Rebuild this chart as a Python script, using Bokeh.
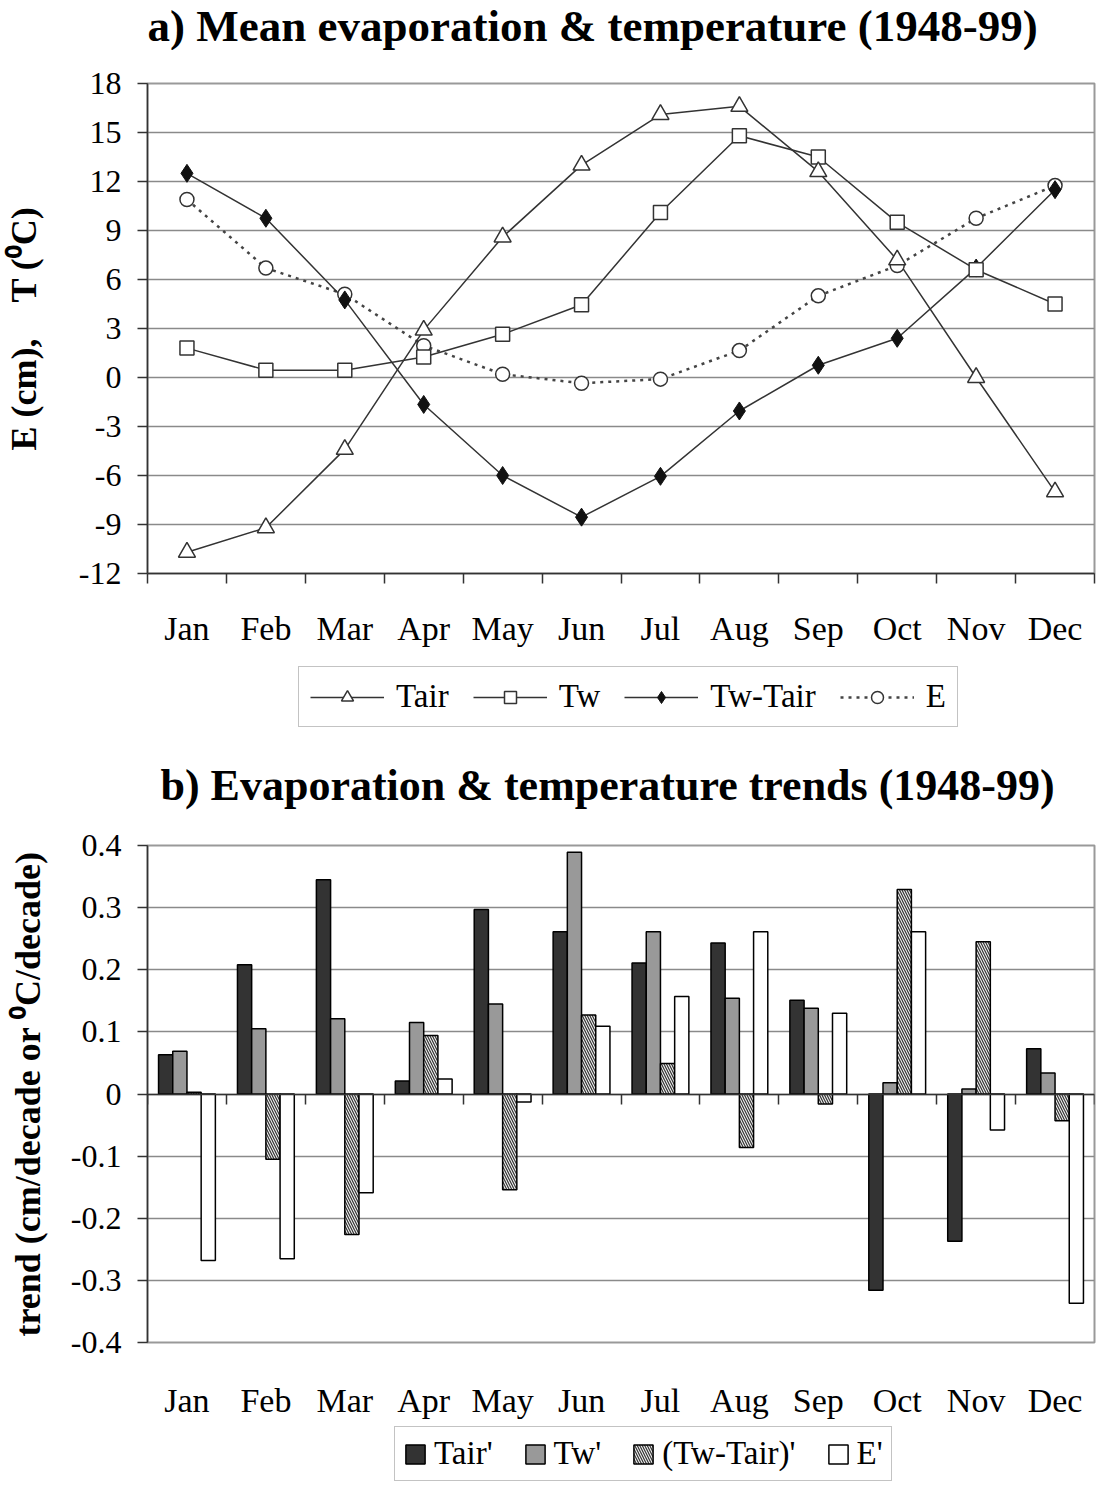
from bokeh.plotting import figure
from bokeh.models import (ColumnDataSource, Range1d, LinearAxis, FixedTicker, Legend,
                          LegendItem, PrintfTickFormatter, Grid, Label)
from bokeh.layouts import column
from bokeh.transform import dodge
from bokeh.embed import file_html
from bokeh.resources import INLINE

# ---------------- data ----------------
months = ["Jan", "Feb", "Mar", "Apr", "May", "Jun", "Jul", "Aug", "Sep", "Oct", "Nov", "Dec"]
month_idx = [1, 2, 3, 4, 5, 6, 7, 8, 9, 10, 11, 12]

# a) mean evaporation & temperature
tair = [-10.7, -9.2, -4.4, 2.9, 8.6, 13.0, 16.1, 16.6, 12.6, 7.2, 0.0, -7.0]
tw = [1.8, 0.45, 0.45, 1.25, 2.65, 4.45, 10.1, 14.8, 13.5, 9.5, 6.6, 4.5]
tw_tair = [12.5, 9.75, 4.75, -1.65, -6.0, -8.55, -6.05, -2.05, 0.75, 2.4, 6.7, 11.5]
evap = [10.9, 6.7, 5.1, 1.95, 0.2, -0.35, -0.1, 1.65, 5.0, 6.85, 9.75, 11.75]
y_ticks_a = [-12, -9, -6, -3, 0, 3, 6, 9, 12, 15, 18]

# b) trends
trend_tair = [0.063, 0.208, 0.345, 0.021, 0.297, 0.261, 0.211, 0.243, 0.151, -0.316, -0.237, 0.073]
trend_tw = [0.069, 0.105, 0.121, 0.115, 0.145, 0.389, 0.261, 0.154, 0.138, 0.018, 0.008, 0.034]
trend_diff = [0.003, -0.105, -0.226, 0.094, -0.154, 0.127, 0.049, -0.086, -0.016, 0.329, 0.245, -0.043]
trend_e = [-0.268, -0.265, -0.159, 0.024, -0.013, 0.109, 0.157, 0.261, 0.130, 0.261, -0.058, -0.337]
y_ticks_b = [-0.4, -0.3, -0.2, -0.1, 0, 0.1, 0.2, 0.3, 0.4]

FONT = "Liberation Serif"
LINE = "#333333"
W_FIG = 1098
month_bounds = [m - 0.5 for m in month_idx] + [month_idx[-1] + 0.5]
month_labels = {m: lab for m, lab in zip(month_idx, months)}


def add_y_axis(p, ticks, label, label_standoff):
    ax = LinearAxis(ticker=FixedTicker(ticks=ticks), formatter=PrintfTickFormatter(format="%g"))
    ax.axis_label = label
    ax.axis_label_text_font = FONT
    ax.axis_label_text_font_size = "36px"
    ax.axis_label_text_font_style = "bold"
    ax.axis_label_text_color = "black"
    ax.axis_label_standoff = label_standoff
    ax.major_label_text_font = FONT
    ax.major_label_text_font_size = "32px"
    ax.major_label_text_color = "black"
    ax.major_label_standoff = 16
    ax.major_tick_out = 10
    ax.major_tick_in = 0
    ax.major_tick_line_color = LINE
    ax.major_tick_line_width = 1.5
    ax.axis_line_color = LINE
    ax.axis_line_width = 1.5
    p.add_layout(ax, "left")
    p.add_layout(Grid(dimension=1, ticker=ax.ticker, grid_line_color="#8a8a8a", grid_line_width=1.5))


def style_label_axis(ax, standoff):
    ax.major_label_overrides = month_labels
    ax.major_label_text_font = FONT
    ax.major_label_text_font_size = "34px"
    ax.major_label_text_color = "black"
    ax.major_label_standoff = standoff


def strip_figure(height):
    # text / legend strip: only annotations are shown here
    f = figure(width=W_FIG, height=height, x_range=Range1d(100, 101), y_range=Range1d(100, 101),
               output_backend="svg", toolbar_location=None, x_axis_type=None, y_axis_type=None,
               min_border=0)
    f.outline_line_color = None
    return f


def add_title(f, text, x, y, size):
    f.add_layout(Label(x=x, y=y, x_units="screen", y_units="screen", text=text,
                       text_font=FONT, text_font_size=size, text_font_style="bold",
                       text_color="black", text_baseline="middle", text_align="left"))


def style_legend(leg):
    leg.label_text_font = FONT
    leg.label_text_font_size = "33px"
    leg.label_text_color = "black"
    leg.border_line_color = "#888888"
    leg.border_line_width = 1.5
    leg.background_fill_alpha = 1.0
    leg.margin = 0


# ---------------- title a ----------------
ta = strip_figure(50)
add_title(ta, "a) Mean evaporation & temperature (1948-99)", 0, 25, "45px")

# ---------------- figure a ----------------
pa = figure(width=W_FIG, height=600, x_range=Range1d(0.5, 12.5), y_range=Range1d(-12, 18),
            output_backend="svg", toolbar_location=None, x_axis_type=None, y_axis_type=None,
            min_border_left=146, min_border_right=4, min_border_top=33, min_border_bottom=77)
pa.outline_line_color = "#999999"
pa.outline_line_width = 2

add_y_axis(pa, y_ticks_a, "E (cm),\u00a0\u00a0\u00a0\u00a0T (\u2070C)", 32)

xa = LinearAxis(ticker=FixedTicker(ticks=month_idx, minor_ticks=month_bounds))
style_label_axis(xa, 26)
xa.major_tick_out = 0
xa.major_tick_in = 0
xa.minor_tick_out = 10
xa.minor_tick_in = 0
xa.minor_tick_line_color = LINE
xa.minor_tick_line_width = 1.5
xa.axis_line_color = LINE
xa.axis_line_width = 1.5
pa.add_layout(xa, "below")

src_a = ColumnDataSource(dict(x=month_idx, tair=tair, tw=tw, diff=tw_tair, e=evap))

E_LINE = dict(line_color="#444444", line_width=2.5, line_dash="3 5")
T_LINE = dict(line_color=LINE, line_width=1.5)
M_TAIR = dict(marker="triangle", size=17, fill_color="white", line_color=LINE, line_width=1.5)
M_TW = dict(marker="square", size=14, fill_color="white", line_color=LINE, line_width=1.5)
M_DIFF = dict(marker="diamond", size=18, fill_color="#111111", line_color="#111111", line_width=1)
M_E = dict(marker="circle", size=14, fill_color="white", line_color=LINE, line_width=1.5)
series_a = [("Tair", "tair", T_LINE, M_TAIR), ("Tw", "tw", T_LINE, M_TW),
            ("Tw-Tair", "diff", T_LINE, M_DIFF), ("E", "e", E_LINE, M_E)]

for _, col, ls, _ in series_a[::-1]:
    pa.line("x", col, source=src_a, **ls)
for _, col, _, ms in series_a[::-1]:
    pa.scatter("x", col, source=src_a, **ms)

# ---------------- legend a + title b ----------------
la = strip_figure(160)
items_a = []
for lab, col, ls, ms in series_a:
    r1 = la.line("x", col, source=src_a, visible=False, **ls)
    r2 = la.scatter("x", col, source=src_a, visible=False, **ms)
    items_a.append(LegendItem(label=lab, renderers=[r1, r2]))
leg_a = Legend(items=items_a, orientation="horizontal", location=(151, 83))
style_legend(leg_a)
leg_a.glyph_width = 74
leg_a.glyph_height = 30
leg_a.label_standoff = 12
leg_a.spacing = 24
leg_a.padding = 11
leg_a.inactive_fill_alpha = 0
la.add_layout(leg_a)
add_title(la, "b) Evaporation & temperature trends (1948-99)", 13, 25, "44px")

# ---------------- figure b ----------------
pb = figure(width=W_FIG, height=611, x_range=Range1d(0.5, 12.5), y_range=Range1d(-0.4, 0.4),
            output_backend="svg", toolbar_location=None, x_axis_type=None, y_axis_type=None,
            min_border_left=146, min_border_right=4, min_border_top=35, min_border_bottom=76)
pb.outline_line_color = "#999999"
pb.outline_line_width = 2

add_y_axis(pb, y_ticks_b, "trend (cm/decade or \u2070C/decade)", 20)

xb_lab = LinearAxis(ticker=FixedTicker(ticks=month_idx))
style_label_axis(xb_lab, 39)
xb_lab.axis_line_color = None
xb_lab.major_tick_out = 0
xb_lab.major_tick_in = 0
xb_lab.minor_tick_out = 0
xb_lab.minor_tick_in = 0
pb.add_layout(xb_lab, "below")

xb_zero = LinearAxis(fixed_location=0, ticker=FixedTicker(ticks=[], minor_ticks=month_bounds))
xb_zero.major_label_text_font_size = "0px"
xb_zero.minor_tick_out = 10
xb_zero.minor_tick_in = 0
xb_zero.minor_tick_line_color = LINE
xb_zero.minor_tick_line_width = 1.5
xb_zero.axis_line_color = LINE
xb_zero.axis_line_width = 1.5
pb.add_layout(xb_zero, "below")

src_b = ColumnDataSource(dict(x=month_idx, tair=trend_tair, tw=trend_tw, diff=trend_diff, e=trend_e))
W = 0.18
B_TAIR = dict(fill_color="#333333", line_color="black", line_width=1.5)
B_TW = dict(fill_color="#999999", line_color="black", line_width=1.5)
B_DIFF = dict(fill_color="#f0f0f0", line_color="black", line_width=1.5,
              hatch_pattern="left_diagonal_line", hatch_color="#333333",
              hatch_scale=5, hatch_weight=1.2)
B_E = dict(fill_color="white", line_color="black", line_width=1.5)
series_b = [("Tair'", "tair", -0.27, B_TAIR), ("Tw'", "tw", -0.09, B_TW),
            ("(Tw-Tair)'", "diff", 0.09, B_DIFF), ("E'", "e", 0.27, B_E)]

for _, col, off, st in series_b:
    pb.vbar(x=dodge("x", off), top=col, width=W, source=src_b, **st)

# ---------------- legend b ----------------
lb = strip_figure(60)
items_b = []
for lab, col, off, st in series_b:
    r = lb.vbar(x=dodge("x", off), top=col, width=W, source=src_b, visible=False, **st)
    items_b.append(LegendItem(label=lab, renderers=[r]))
leg_b = Legend(items=items_b, orientation="horizontal", location=(247, 0))
style_legend(leg_b)
leg_b.glyph_width = 24
leg_b.glyph_height = 24
leg_b.label_standoff = 7
leg_b.spacing = 30
leg_b.padding = 8
leg_b.inactive_fill_alpha = 0
lb.add_layout(leg_b)

layout = column(ta, pa, la, pb, lb)
open("out.html", "w").write(file_html(layout, INLINE))
